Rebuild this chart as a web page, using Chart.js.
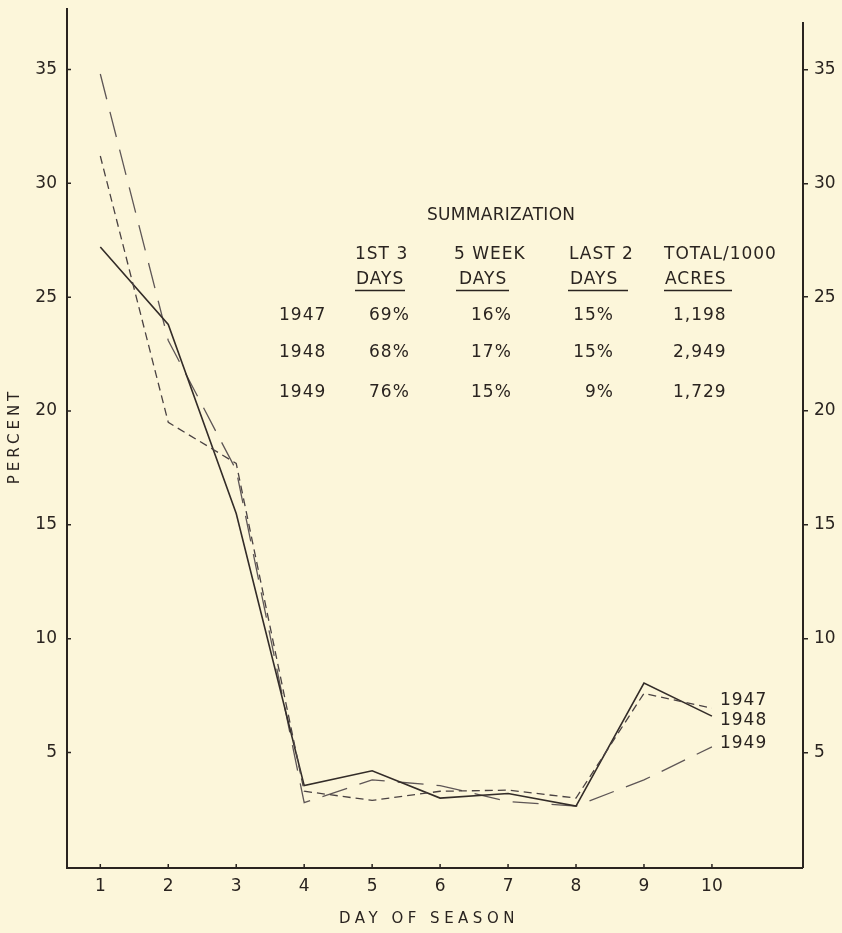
<!DOCTYPE html>
<html><head><meta charset="utf-8">
<script src="https://cdn.jsdelivr.net/npm/chart.js@4/dist/chart.umd.min.js"></script>
<style>html,body{margin:0;padding:0;background:#fcf6da;}canvas{display:block}</style>
</head><body>
<canvas id="c" width="842" height="933"></canvas>
<script>
// ---- data ----
const days = [1, 2, 3, 4, 5, 6, 7, 8, 9, 10];
const pct1947 = [31.2, 19.5, 17.7, 3.3, 2.9, 3.3, 3.35, 3.0, 7.6, 6.95];
const pct1948 = [27.2, 23.8, 15.5, 3.55, 4.2, 3.0, 3.2, 2.65, 8.05, 6.6];
const pct1949 = [34.8, 23.1, 17.4, 2.8, 3.8, 3.55, 2.85, 2.65, 3.8, 5.25];
const seriesNames = ['1947', '1948', '1949'];
const yTicks = [5, 10, 15, 20, 25, 30, 35];
const xTicks = [1, 2, 3, 4, 5, 6, 7, 8, 9, 10];
const yTitle = 'PERCENT';
const xTitle = 'DAY OF SEASON';
const tableTitle = 'SUMMARIZATION';
const headTop = ['1ST 3', '5 WEEK', 'LAST 2', 'TOTAL/1000'];
const headBottom = ['DAYS', 'DAYS', 'DAYS', 'ACRES'];
const tableYears = ['1947', '1948', '1949'];
const colFirst3 = ['69%', '68%', '76%'];
const colWeek = ['16%', '17%', '15%'];
const colLast2 = ['15%', '15%', '9%'];
const colTotal = ['1,198', '2,949', '1,729'];

const INK = '#2a2420';
const FONT = '"DejaVu Sans", sans-serif';

const toPts = arr => days.map((d, i) => ({ x: d, y: arr[i] }));

const decor = {
  id: 'decor',
  beforeDraw(chart) {
    const { ctx, width, height } = chart;
    ctx.save();
    ctx.fillStyle = '#fcf6da';
    ctx.fillRect(0, 0, width, height);
    ctx.restore();
  },
  beforeDatasetsDraw(chart) {
    const { ctx, chartArea: ca, scales } = chart;
    ctx.save();
    ctx.strokeStyle = INK;
    ctx.lineWidth = 2;
    ctx.beginPath();
    ctx.moveTo(ca.left, ca.top); ctx.lineTo(ca.left, ca.bottom); ctx.lineTo(ca.right, ca.bottom);
    ctx.moveTo(ca.right, ca.top + 14); ctx.lineTo(ca.right, ca.bottom);
    ctx.stroke();
    ctx.lineWidth = 1.5;
    ctx.beginPath();
    yTicks.forEach(v => { const y = scales.y.getPixelForValue(v); ctx.moveTo(ca.left, y); ctx.lineTo(ca.left + 4, y); });
    xTicks.forEach(v => { const x = scales.x.getPixelForValue(v); ctx.moveTo(x, ca.bottom); ctx.lineTo(x, ca.bottom - 4); });
    ctx.stroke();
    ctx.restore();
  },
  afterDatasetsDraw(chart) {
    const { ctx, chartArea: ca } = chart;
    ctx.save();
    ctx.fillStyle = INK;
    ctx.strokeStyle = INK;
    ctx.textBaseline = 'middle';
    // series labels at line ends
    ctx.font = '17px ' + FONT;
    ctx.letterSpacing = '1px';
    ctx.textAlign = 'left';
    const nudge = [-8, 4, -3];
    seriesNames.forEach((n, i) => {
      const pts = chart.getDatasetMeta(i).data;
      const p = pts[pts.length - 1];
      ctx.fillText(n, p.x + 8, p.y + nudge[i]);
    });
    // axis titles
    ctx.font = '15px ' + FONT;
    ctx.letterSpacing = '4.5px';
    ctx.textAlign = 'center';
    ctx.fillText(xTitle, (ca.left + ca.right) / 2 - 6, 919);
    ctx.save();
    ctx.translate(15, (ca.top + ca.bottom) / 2);
    ctx.rotate(-Math.PI / 2);
    ctx.letterSpacing = '4px';
    ctx.fillText(yTitle, 2, 0);
    ctx.restore();
    // summary table
    ctx.textAlign = 'left';
    ctx.font = '17px ' + FONT;
    ctx.letterSpacing = '0.3px';
    ctx.fillText(tableTitle, 427, 216);
    ctx.letterSpacing = '1px';
    const hx = [355, 454, 569, 664];
    const hx2 = [356, 459, 570, 665];
    const ul = [[355, 405], [456, 509], [568, 628], [664, 732]];
    headTop.forEach((t, i) => ctx.fillText(t, hx[i], 255));
    headBottom.forEach((t, i) => ctx.fillText(t, hx2[i], 280));
    ctx.lineWidth = 1.6;
    ctx.beginPath();
    ul.forEach(([a, b]) => { ctx.moveTo(a, 290.5); ctx.lineTo(b, 290.5); });
    ctx.stroke();
    const rowY = [316, 353, 393];
    tableYears.forEach((yr, r) => {
      const y = rowY[r];
      ctx.textAlign = 'left';
      ctx.fillText(yr, 279, y);
      ctx.fillText(colFirst3[r], 369, y);
      ctx.fillText(colWeek[r], 471, y);
      ctx.fillText(colTotal[r], 673, y);
      ctx.textAlign = 'right';
      ctx.fillText(colLast2[r], 614, y);
    });
    ctx.restore();
  }
};

const tickFont = { family: FONT, size: 17 };
const setYTicks = s => { s.ticks = yTicks.map(v => ({ value: v })); };

new Chart(document.getElementById('c'), {
  type: 'line',
  data: {
    datasets: [
      { label: seriesNames[0], data: toPts(pct1947), borderColor: '#4a4242', borderWidth: 1.3, borderDash: [8, 5], pointRadius: 0, tension: 0 },
      { label: seriesNames[1], data: toPts(pct1948), borderColor: '#332c28', borderWidth: 1.6, pointRadius: 0, tension: 0 },
      { label: seriesNames[2], data: toPts(pct1949), borderColor: '#5e5656', borderWidth: 1.3, borderDash: [26, 13], pointRadius: 0, tension: 0 }
    ]
  },
  options: {
    responsive: false,
    devicePixelRatio: 1,
    animation: false,
    layout: { padding: { top: 8, left: 0, right: 0, bottom: 0 } },
    plugins: { legend: { display: false }, tooltip: { enabled: false } },
    scales: {
      x: {
        type: 'linear', min: 0.51, max: 11.34,
        afterBuildTicks: s => { s.ticks = xTicks.map(v => ({ value: v })); },
        afterFit: s => { s.height = 65; s.paddingLeft = 0; s.paddingRight = 0; },
        grid: { display: false, drawTicks: false },
        border: { display: false },
        ticks: { font: tickFont, color: INK, padding: 8, maxRotation: 0 }
      },
      y: {
        type: 'linear', position: 'left', min: -0.07, max: 37.7,
        afterBuildTicks: setYTicks,
        afterFit: s => { s.width = 67; s.paddingTop = 0; s.paddingBottom = 0; },
        grid: { display: false, drawTicks: false },
        border: { display: false },
        ticks: { font: tickFont, color: INK, padding: 10 }
      },
      y2: {
        type: 'linear', position: 'right', min: -0.07, max: 37.7,
        afterBuildTicks: setYTicks,
        afterFit: s => { s.width = 39; s.paddingTop = 0; s.paddingBottom = 0; },
        grid: { display: true, drawOnChartArea: false, drawTicks: true, tickLength: 5, color: INK, lineWidth: 1.5 },
        border: { display: false },
        ticks: { font: tickFont, color: INK, padding: 6 }
      }
    }
  },
  plugins: [decor]
});
</script>
</body></html>
